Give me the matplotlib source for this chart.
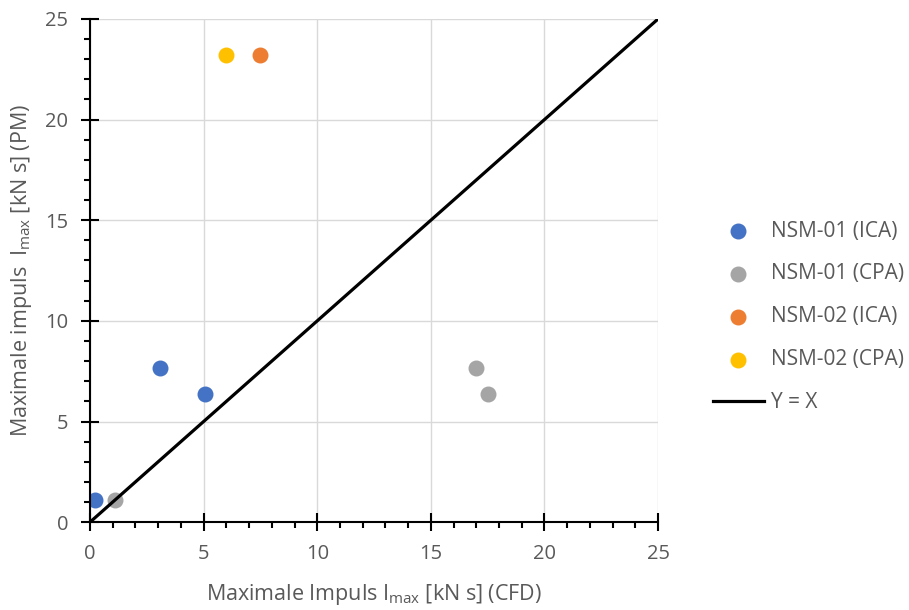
import matplotlib.pyplot as plt
from matplotlib.ticker import MultipleLocator

plt.rcParams['font.family'] = ['Open Sans', 'DejaVu Sans']

# data
nsm01_ica_x = [0.2, 3.1, 5.05]
nsm01_ica_y = [1.1, 7.65, 6.35]
nsm01_cpa_x = [1.1, 17.0, 17.5]
nsm01_cpa_y = [1.1, 7.65, 6.35]
nsm02_ica_x = [7.5]
nsm02_ica_y = [23.2]
nsm02_cpa_x = [6.0]
nsm02_cpa_y = [23.2]
line_xy = [0, 25]

text_color = "#595959"

fig = plt.figure(figsize=(9.09, 6.10), dpi=100)
ax = fig.add_axes([0.099, 0.144, 0.625, 0.825])

ax.scatter(nsm01_ica_x, nsm01_ica_y, s=110, color="#4472C4", label="NSM-01 (ICA)", zorder=3)
ax.scatter(nsm01_cpa_x, nsm01_cpa_y, s=110, color="#A5A5A5", label="NSM-01 (CPA)", zorder=3)
ax.scatter(nsm02_ica_x, nsm02_ica_y, s=110, color="#ED7D31", label="NSM-02 (ICA)", zorder=3)
ax.scatter(nsm02_cpa_x, nsm02_cpa_y, s=110, color="#FFC000", label="NSM-02 (CPA)", zorder=3)
ax.plot(line_xy, line_xy, color="black", lw=2.3, label="Y = X", zorder=4)

ax.set_xlim(0, 25)
ax.set_ylim(0, 25)
ax.xaxis.set_major_locator(MultipleLocator(5))
ax.yaxis.set_major_locator(MultipleLocator(5))
ax.xaxis.set_minor_locator(MultipleLocator(1))
ax.yaxis.set_minor_locator(MultipleLocator(1))

ax.grid(True, which="major", color="#D9D9D9", lw=1)
ax.set_axisbelow(True)

for side in ["top", "right"]:
    ax.spines[side].set_visible(False)
for side in ["left", "bottom"]:
    ax.spines[side].set_linewidth(1.5)
    ax.spines[side].set_zorder(5)

ax.tick_params(which="major", direction="inout", length=13, width=1.5,
               labelsize=14.5, labelcolor=text_color, pad=9)
ax.tick_params(which="minor", direction="out", length=4, width=1.5)

ax.set_xlabel("Maximale Impuls I$_{\\mathregular{max}}$ [kN s] (CFD)",
              fontsize=15.5, color=text_color, labelpad=13)
ax.set_ylabel("Maximale impuls  I$_{\\mathregular{max}}$ [kN s] (PM)",
              fontsize=15.5, color=text_color, labelpad=8)

leg = fig.legend(loc="upper left", bbox_to_anchor=(0.775, 0.652), frameon=False,
                 fontsize=15, labelspacing=1.05, handlelength=2.45,
                 handletextpad=0.35, scatterpoints=1, borderaxespad=0)
for t in leg.get_texts():
    t.set_color(text_color)

plt.savefig("out.png", dpi=100)
plt.close()
